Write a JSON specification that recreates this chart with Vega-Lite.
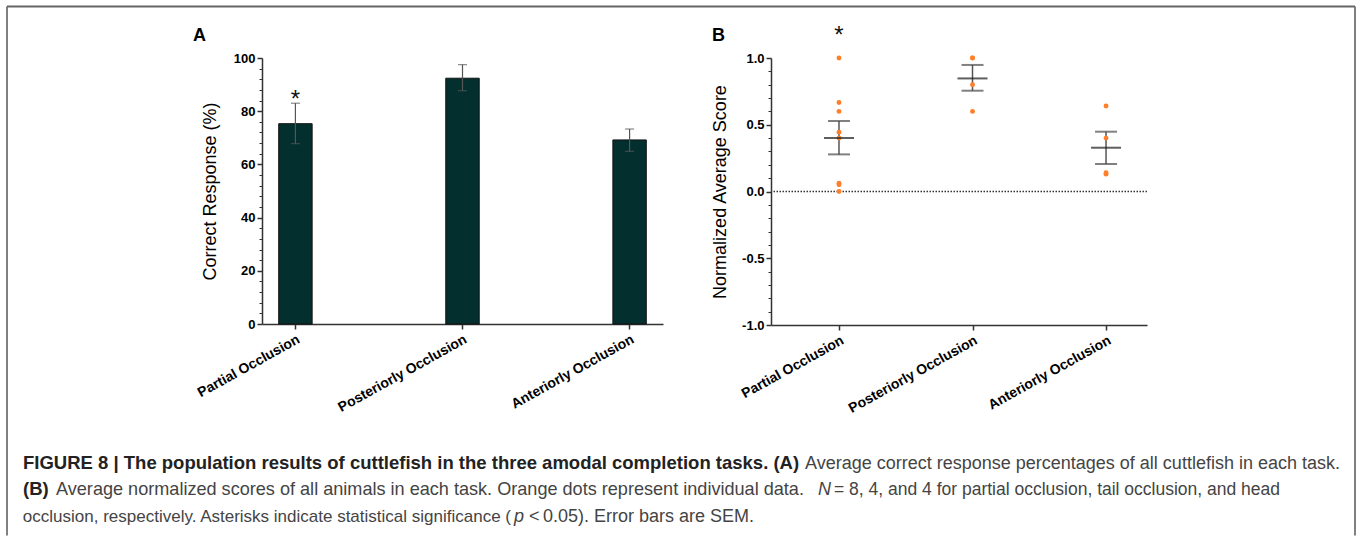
{
  "$schema": "https://vega.github.io/schema/vega-lite/v6.json",
  "background": "white",
  "padding": {"left": 6, "top": 5, "right": 0, "bottom": 0},
  "config": {
    "view": {"stroke": null},
    "font": "Liberation Sans",
    "axis": {
      "domainColor": "#333", "domainWidth": 1.5, "tickColor": "#333", "tickWidth": 1.5, "tickSize": 5,
      "labelFont": "Liberation Sans", "labelFontWeight": "bold", "labelFontSize": 13, "labelColor": "#000", "labelPadding": 2,
      "titleFont": "Liberation Sans", "titleFontWeight": "normal", "titleFontSize": 18, "titleColor": "#000", "grid": false
    }
  },
  "datasets": {
    "barsA": [
      {"task": "Partial Occlusion", "pct": 75.3, "lo": 67.8, "hi": 83.0, "sig": true},
      {"task": "Posteriorly Occlusion", "pct": 92.4, "lo": 87.7, "hi": 97.5, "sig": false},
      {"task": "Anteriorly Occlusion", "pct": 69.2, "lo": 64.9, "hi": 73.3, "sig": false}
    ],
    "dotsB": [
      {"task": "Partial Occlusion", "score": 1.0, "side": "C"},
      {"task": "Partial Occlusion", "score": 0.667, "side": "C"},
      {"task": "Partial Occlusion", "score": 0.6, "side": "C"},
      {"task": "Partial Occlusion", "score": 0.444, "side": "C"},
      {"task": "Partial Occlusion", "score": 0.4, "side": "C"},
      {"task": "Partial Occlusion", "score": 0.0625, "side": "L"},
      {"task": "Partial Occlusion", "score": 0.05, "side": "R"},
      {"task": "Partial Occlusion", "score": 0.0, "side": "C"},
      {"task": "Posteriorly Occlusion", "score": 1.0, "side": "L"},
      {"task": "Posteriorly Occlusion", "score": 1.0, "side": "R"},
      {"task": "Posteriorly Occlusion", "score": 0.8, "side": "C"},
      {"task": "Posteriorly Occlusion", "score": 0.6, "side": "C"},
      {"task": "Anteriorly Occlusion", "score": 0.64, "side": "C"},
      {"task": "Anteriorly Occlusion", "score": 0.4, "side": "C"},
      {"task": "Anteriorly Occlusion", "score": 0.13, "side": "L"},
      {"task": "Anteriorly Occlusion", "score": 0.14, "side": "R"}
    ],
    "meanB": [
      {"task": "Partial Occlusion", "mean": 0.40, "lo": 0.278, "hi": 0.528, "sig": true},
      {"task": "Posteriorly Occlusion", "mean": 0.847, "lo": 0.755, "hi": 0.948, "sig": false},
      {"task": "Anteriorly Occlusion", "mean": 0.328, "lo": 0.206, "hi": 0.448, "sig": false}
    ]
  },
  "bounds": "flush",
  "spacing": 108,
  "hconcat": [
    {
      "width": 401, "height": 266,
      "data": {"name": "barsA"},
      "resolve": {"axis": {"y": "independent"}},
      "encoding": {
        "x": {"field": "task", "type": "nominal", "title": null,
              "scale": {"domain": ["Partial Occlusion", "Posteriorly Occlusion", "Anteriorly Occlusion"], "paddingInner": 0.8, "paddingOuter": 0.1},
              "axis": {"labelAngle": -29, "labelAlign": "right", "labelBaseline": "top", "labelFontSize": 14, "tickSize": 5, "labelPadding": 3}}
      },
      "layer": [
        {"mark": {"type": "bar", "fill": "#03302f", "stroke": "#111", "strokeWidth": 1},
         "encoding": {"y": {"field": "pct", "type": "quantitative", "scale": {"domain": [0, 100], "nice": false},
                            "axis": {"values": [0, 20, 40, 60, 80, 100], "title": "Correct Response (%)", "titlePadding": 14}}}},
        {"mark": {"type": "rule", "color": "#555", "strokeWidth": 1.2},
         "encoding": {"y": {"field": "lo", "type": "quantitative", "scale": {"domain": [0, 100], "nice": false},
                            "axis": {"orient": "left", "values": [4, 8, 12, 16, 24, 28, 32, 36, 44, 48, 52, 56, 64, 68, 72, 76, 84, 88, 92, 96], "labels": false, "domain": false, "tickSize": 3, "tickWidth": 1, "title": null}},
                      "y2": {"field": "hi"}}},
        {"mark": {"type": "tick", "color": "#555", "size": 9, "thickness": 1.2},
         "encoding": {"y": {"field": "hi", "type": "quantitative", "scale": {"domain": [0, 100], "nice": false}, "axis": null}}},
        {"mark": {"type": "tick", "color": "#555", "size": 9, "thickness": 1.2},
         "encoding": {"y": {"field": "lo", "type": "quantitative", "scale": {"domain": [0, 100], "nice": false}, "axis": null}}},
        {"transform": [{"filter": "datum.sig"}],
         "mark": {"type": "text", "text": "*", "fontSize": 24, "baseline": "alphabetic", "color": "#111", "dy": 4},
         "encoding": {"y": {"field": "hi", "type": "quantitative", "scale": {"domain": [0, 100], "nice": false}, "axis": null}}},
        {"data": {"values": [{}]}, "mark": {"type": "rule", "color": "#808080", "strokeWidth": 2},
         "encoding": {"x": {"value": -255}, "y": {"value": -51.5}, "y2": {"value": 477.5}}},
        {"data": {"values": [{}]}, "mark": {"type": "rule", "color": "#808080", "strokeWidth": 2},
         "encoding": {"x": {"value": 1093}, "y": {"value": -51.5}, "y2": {"value": 477.5}}},
        {"data": {"values": [{}]}, "mark": {"type": "rule", "color": "#666", "strokeWidth": 2},
         "encoding": {"x": {"value": -255}, "x2": {"value": 1093}, "y": {"value": -51.5}}},
        {"data": {"values": [{"t": "A"}]},
         "mark": {"type": "text", "align": "left", "baseline": "alphabetic", "fontSize": 18, "fontWeight": "bold", "color": "#000"},
         "encoding": {"text": {"field": "t"}, "x": {"value": -69}, "y": {"value": -16.8}}},
        {"data": {"values": [{"t": "B"}]},
         "mark": {"type": "text", "align": "left", "baseline": "alphabetic", "fontSize": 18, "fontWeight": "bold", "color": "#000"},
         "encoding": {"text": {"field": "t"}, "x": {"value": 450}, "y": {"value": -16.8}}},
        {"data": {"values": [{"t": "FIGURE 8 | The population results of cuttlefish in the three amodal completion tasks. (A)"}]},
         "mark": {"type": "text", "align": "left", "baseline": "alphabetic", "fontSize": 18.5, "fontWeight": "bold", "color": "#222"},
         "encoding": {"text": {"field": "t"}, "x": {"value": -239}, "y": {"value": 410.5}}},
        {"data": {"values": [{"t": "Average correct response percentages of all cuttlefish in each task."}]},
         "mark": {"type": "text", "align": "left", "baseline": "alphabetic", "fontSize": 18, "color": "#444"},
         "encoding": {"text": {"field": "t"}, "x": {"value": 543}, "y": {"value": 410.5}}},
        {"data": {"values": [{"t": "(B)"}]},
         "mark": {"type": "text", "align": "left", "baseline": "alphabetic", "fontSize": 18.5, "fontWeight": "bold", "color": "#222"},
         "encoding": {"text": {"field": "t"}, "x": {"value": -239}, "y": {"value": 437}}},
        {"data": {"values": [{"t": "Average normalized scores of all animals in each task. Orange dots represent individual data."}]},
         "mark": {"type": "text", "align": "left", "baseline": "alphabetic", "fontSize": 18.1, "color": "#444"},
         "encoding": {"text": {"field": "t"}, "x": {"value": -206}, "y": {"value": 437}}},
        {"data": {"values": [{"t": "N"}]},
         "mark": {"type": "text", "align": "left", "baseline": "alphabetic", "fontSize": 18, "fontStyle": "italic", "color": "#444"},
         "encoding": {"text": {"field": "t"}, "x": {"value": 556}, "y": {"value": 437}}},
        {"data": {"values": [{"t": "= 8, 4, and 4 for partial occlusion, tail occlusion, and head"}]},
         "mark": {"type": "text", "align": "left", "baseline": "alphabetic", "fontSize": 17.5, "color": "#444"},
         "encoding": {"text": {"field": "t"}, "x": {"value": 572}, "y": {"value": 437}}},
        {"data": {"values": [{"t": "occlusion, respectively. Asterisks indicate statistical significance ("}]},
         "mark": {"type": "text", "align": "right", "baseline": "alphabetic", "fontSize": 17, "color": "#444"},
         "encoding": {"text": {"field": "t"}, "x": {"value": 249}, "y": {"value": 463.5}}},
        {"data": {"values": [{"t": "p"}]},
         "mark": {"type": "text", "align": "left", "baseline": "alphabetic", "fontSize": 18, "fontStyle": "italic", "color": "#444"},
         "encoding": {"text": {"field": "t"}, "x": {"value": 252}, "y": {"value": 463.5}}},
        {"data": {"values": [{"t": "<"}]},
         "mark": {"type": "text", "align": "left", "baseline": "alphabetic", "fontSize": 18, "color": "#444"},
         "encoding": {"text": {"field": "t"}, "x": {"value": 267}, "y": {"value": 463.5}}},
        {"data": {"values": [{"t": "0.05). Error bars are SEM."}]},
         "mark": {"type": "text", "align": "left", "baseline": "alphabetic", "fontSize": 18, "color": "#444"},
         "encoding": {"text": {"field": "t"}, "x": {"value": 281}, "y": {"value": 463.5}}}
      ]
    },
    {
      "width": 376, "height": 267,
      "resolve": {"axis": {"y": "independent"}},
      "layer": [
        {"data": {"values": [{}]},
         "mark": {"type": "rule", "color": "#333", "strokeWidth": 1.3, "strokeDash": [1.5, 1.5]},
         "encoding": {"y": {"datum": 0, "type": "quantitative", "scale": {"domain": [-1, 1], "nice": false, "zero": false},
                            "axis": {"values": [-1, -0.5, 0, 0.5, 1], "format": ".1f", "labelExpr": "replace(datum.label, '\u2212', '-')", "title": "Normalized Average Score", "titlePadding": 12}}}},
        {"data": {"name": "meanB"},
         "mark": {"type": "rule", "color": "#555", "strokeWidth": 1.5},
         "encoding": {
           "x": {"field": "task", "type": "nominal", "title": null,
                 "scale": {"type": "point", "domain": ["Partial Occlusion", "Posteriorly Occlusion", "Anteriorly Occlusion"], "padding": 0.408, "align": 0.624},
                 "axis": {"labelAngle": -29, "labelAlign": "right", "labelBaseline": "top", "labelFontSize": 14, "tickSize": 5, "labelPadding": 3}},
           "y": {"field": "lo", "type": "quantitative", "scale": {"domain": [-1, 1], "nice": false, "zero": false},
                 "axis": {"orient": "left", "values": [-0.9, -0.8, -0.7, -0.6, -0.4, -0.3, -0.2, -0.1, 0.1, 0.2, 0.3, 0.4, 0.6, 0.7, 0.8, 0.9], "labels": false, "domain": false, "tickSize": 3, "tickWidth": 1, "title": null}},
           "y2": {"field": "hi"}}},
        {"data": {"name": "meanB"},
         "mark": {"type": "tick", "color": "#4a4a4a", "size": 22, "thickness": 2},
         "encoding": {"x": {"field": "task", "type": "nominal"}, "y": {"field": "hi", "type": "quantitative", "axis": null}}},
        {"data": {"name": "meanB"},
         "mark": {"type": "tick", "color": "#4a4a4a", "size": 22, "thickness": 2},
         "encoding": {"x": {"field": "task", "type": "nominal"}, "y": {"field": "lo", "type": "quantitative", "axis": null}}},
        {"data": {"name": "dotsB"}, "transform": [{"filter": "datum.side == 'C'"}],
         "mark": {"type": "circle", "color": "#ff7f2a", "size": 24, "opacity": 1},
         "encoding": {"x": {"field": "task", "type": "nominal"}, "y": {"field": "score", "type": "quantitative", "axis": null}}},
        {"data": {"name": "dotsB"}, "transform": [{"filter": "datum.side == 'L'"}],
         "mark": {"type": "circle", "color": "#ff7f2a", "size": 24, "opacity": 1, "dx": -3},
         "encoding": {"x": {"field": "task", "type": "nominal"}, "y": {"field": "score", "type": "quantitative", "axis": null}}},
        {"data": {"name": "dotsB"}, "transform": [{"filter": "datum.side == 'R'"}],
         "mark": {"type": "circle", "color": "#ff7f2a", "size": 24, "opacity": 1, "dx": 3},
         "encoding": {"x": {"field": "task", "type": "nominal"}, "y": {"field": "score", "type": "quantitative", "axis": null}}},
        {"data": {"name": "meanB"},
         "mark": {"type": "tick", "color": "#1a1a1a", "size": 30, "thickness": 2},
         "encoding": {"x": {"field": "task", "type": "nominal"}, "y": {"field": "mean", "type": "quantitative", "axis": null}}},
        {"data": {"name": "meanB"}, "transform": [{"filter": "datum.sig"}],
         "mark": {"type": "text", "text": "*", "fontSize": 24, "baseline": "alphabetic", "color": "#111", "dy": -15.5},
         "encoding": {"x": {"field": "task", "type": "nominal"}, "y": {"datum": 1, "type": "quantitative", "axis": null}}}
      ]
    }
  ]
}
